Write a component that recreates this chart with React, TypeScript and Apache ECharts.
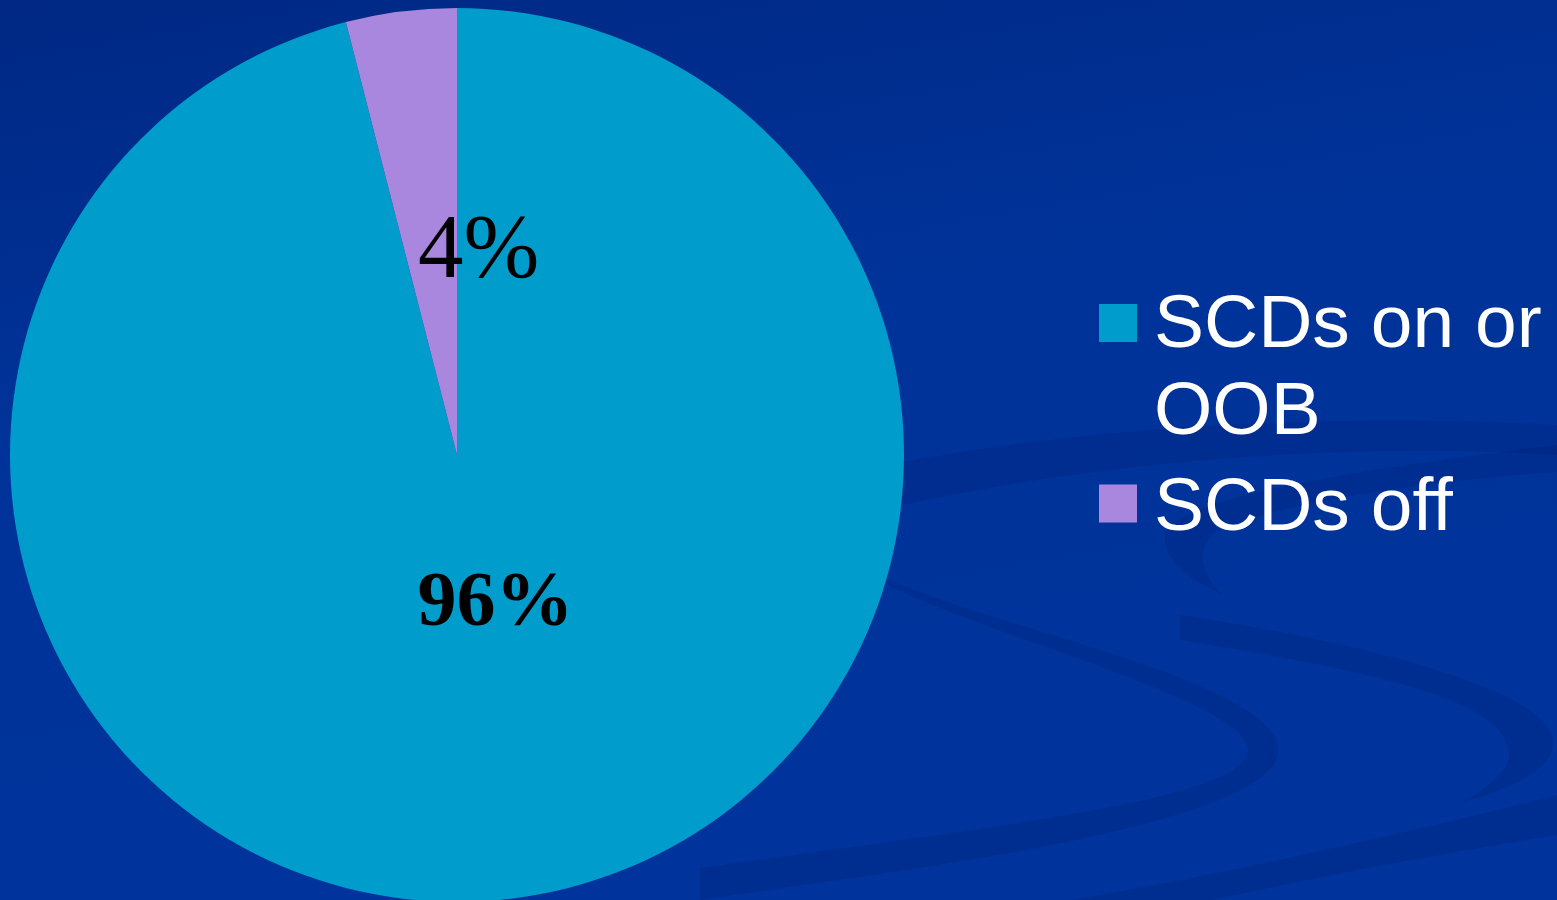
import React, { useEffect, useRef } from "react";
import * as echarts from "echarts";

// ---- data ----
const categories: string[] = ["SCDs on or OOB", "SCDs off"];
const legendLabels: string[] = ["SCDs on or\nOOB", "SCDs off"];
const values: number[] = [96, 4];
const sliceColors: string[] = ["#009ccc", "#a987df"];

// background swoosh shapes (decoration only)
const swooshPaths: string[] = [
  "M870,468 C1050,432 1300,410 1557,425 L1557,455 C1300,440 1050,470 870,512 Z",
  "M1557,445 C1350,470 1170,500 1165,535 C1162,560 1190,580 1222,594 C1200,572 1195,552 1215,532 C1280,502 1420,482 1557,472 Z",
  "M885,578 C1000,630 1270,680 1278,748 C1285,800 1100,842 880,874 L700,900 L700,868 L880,843 C1080,815 1252,790 1248,748 C1240,700 1000,640 885,584 Z",
  "M1180,615 C1350,640 1560,690 1553,745 C1550,775 1500,792 1463,802 C1500,780 1515,762 1507,745 C1495,700 1380,672 1180,640 Z",
  "M1557,795 C1400,835 1200,880 1040,905 L1190,905 C1300,880 1450,852 1557,835 Z",
];

export default function App() {
  const ref = useRef<HTMLDivElement>(null);

  useEffect(() => {
    document.body.style.margin = "0";
    document.body.style.overflow = "hidden";
    swooshPaths.forEach((d, i) => {
      echarts.graphic.registerShape("swoosh" + i, echarts.graphic.extendPath(d, {}) as any);
    });
    const chart = echarts.init(ref.current!, undefined, { renderer: "svg" });

    const labelStyles = [
      { fontSize: 78, fontWeight: "bold", offset: [10, -81] },
      { fontSize: 91, fontWeight: "normal", offset: [50, 16] },
    ];

    const legendText = {
      color: "#ffffff",
      fontFamily: "'Liberation Sans', Arial, sans-serif",
      fontSize: 75,
      lineHeight: 87,
      padding: [0, 0, 0, 12],
    };

    const option: any = {
      animation: false,
      backgroundColor: {
        type: "linear",
        x: 0,
        y: 0,
        x2: 0.3,
        y2: 1,
        colorStops: [
          { offset: 0, color: "#002884" },
          { offset: 0.45, color: "#003399" },
          { offset: 1, color: "#00349c" },
        ],
      },
      graphic: swooshPaths.map((_, i) => ({
        type: "swoosh" + i,
        x: 0,
        y: 0,
        silent: true,
        z: -10,
        style: { fill: "rgba(0,28,105,0.22)" },
      })),
      legend: [
        {
          orient: "vertical",
          left: 1099,
          top: 277,
          padding: 0,
          itemWidth: 38,
          itemHeight: 174,
          icon: "path://M0,0L38,0L38,0.01Z M0,27L38,27L38,65L0,65Z M0,174L38,174L38,173.99Z",
          selectedMode: false,
          itemStyle: { borderWidth: 0 },
          data: [categories[0]],
          formatter: (name: string) => legendLabels[categories.indexOf(name)],
          textStyle: legendText,
        },
        {
          orient: "vertical",
          left: 1099,
          top: 460,
          padding: 0,
          itemWidth: 38,
          itemHeight: 38,
          icon: "rect",
          selectedMode: false,
          itemStyle: { borderWidth: 0 },
          data: [categories[1]],
          formatter: (name: string) => legendLabels[categories.indexOf(name)],
          textStyle: legendText,
        },
      ],
      series: [
        {
          type: "pie",
          center: [457, 455],
          radius: 447,
          startAngle: 90,
          clockwise: true,
          avoidLabelOverlap: false,
          itemStyle: { borderWidth: 0 },
          emphasis: { disabled: true },
          label: {
            show: true,
            position: "inside",
            color: "#000000",
            fontFamily: "'Liberation Serif', 'Times New Roman', serif",
            formatter: (p: any) => p.value + "%",
          },
          labelLine: { show: false },
          data: categories.map((name, i) => ({
            name,
            value: values[i],
            itemStyle: { color: sliceColors[i] },
            label: labelStyles[i],
          })),
        },
      ],
    };

    chart.setOption(option);
    return () => chart.dispose();
  }, []);

  return (
    <div
      ref={ref}
      style={{ position: "absolute", left: 0, top: 0, width: 1557, height: 900 }}
    />
  );
}
